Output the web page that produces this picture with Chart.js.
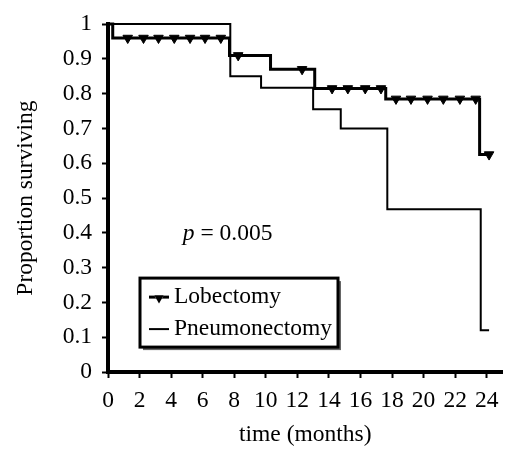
<!DOCTYPE html>
<html>
<head>
<meta charset="utf-8">
<script src="https://cdn.jsdelivr.net/npm/chart.js@4.4.1/dist/chart.umd.min.js"></script>
<style>
html, body { margin: 0; padding: 0; background: #fff; }
</style>
</head>
<body>
<canvas id="myChart" width="509" height="450"></canvas>
<script>
// Kaplan-Meier survival, lobectomy vs pneumonectomy
var monthTicks = [0, 2, 4, 6, 8, 10, 12, 14, 16, 18, 20, 22, 24];

var lobTimes = [0, 0.3, 7.7, 10.3, 13.1, 17.6, 23.55, 24.15];
var lobSurv  = [1, 0.96, 0.91, 0.87, 0.815, 0.785, 0.625, 0.625];

var pneTimes = [0, 7.75, 9.7, 13.0, 14.75, 17.7, 23.62, 24.15];
var pneSurv  = [1, 0.85, 0.817, 0.755, 0.70, 0.468, 0.12, 0.12];

// censored lobectomy patients
var censorTimes = [1.25, 2.25, 3.2, 4.2, 5.2, 6.15, 7.15, 8.25, 12.3, 14.2, 15.2, 16.3, 17.3,
                   18.25, 19.2, 20.25, 21.25, 22.3, 23.3, 24.15];
var censorSurv  = [0.96, 0.96, 0.96, 0.96, 0.96, 0.96, 0.96, 0.91, 0.87, 0.815, 0.815, 0.815, 0.815,
                   0.785, 0.785, 0.785, 0.785, 0.785, 0.785, 0.625];

var pText = '0.005';

var serif = 'Liberation Serif, Times New Roman, serif';
var fsize = 23.5;

function pts(xs, ys) {
  var out = [];
  for (var i = 0; i < xs.length; i++) out.push({x: xs[i], y: ys[i]});
  return out;
}

var legendPlugin = {
  id: 'kmLegend',
  afterDraw: function(chart) {
    var ctx = chart.ctx;
    var ca = chart.chartArea;
    var xs = chart.scales.x, ys = chart.scales.y;
    ctx.save();

    // p value
    ctx.fillStyle = '#000';
    ctx.textBaseline = 'middle';
    ctx.textAlign = 'left';
    var px = xs.getPixelForValue(4.74), py = ys.getPixelForValue(0.398);
    ctx.font = 'italic ' + fsize + 'px ' + serif;
    ctx.fillText('p', px, py);
    var w = ctx.measureText('p').width;
    ctx.font = fsize + 'px ' + serif;
    ctx.fillText(' = ' + pText, px + w, py);

    // legend box
    var bx = ca.left + 32, by = ca.top + 254, bw = 198, bh = 69;
    ctx.fillStyle = '#666';
    ctx.fillRect(bx + 3, by + 3, bw, bh);
    ctx.fillStyle = '#fff';
    ctx.fillRect(bx, by, bw, bh);
    ctx.lineWidth = 3;
    ctx.strokeStyle = '#000';
    ctx.strokeRect(bx, by, bw, bh);

    var rows = [by + 19, by + 51];
    ctx.lineWidth = 3;
    ctx.beginPath();
    ctx.moveTo(bx + 9, rows[0]);
    ctx.lineTo(bx + 29, rows[0]);
    ctx.stroke();
    Chart.helpers.drawPoint(ctx, {pointStyle: 'triangle', radius: 5.5, rotation: 180}, bx + 19, rows[0] + 1);
    ctx.fillStyle = '#000';
    ctx.fill();
    ctx.lineWidth = 2;
    ctx.beginPath();
    ctx.moveTo(bx + 9, rows[1]);
    ctx.lineTo(bx + 29, rows[1]);
    ctx.stroke();

    ctx.fillStyle = '#000';
    ctx.font = fsize + 'px ' + serif;
    ctx.fillText('Lobectomy', bx + 34, rows[0]);
    ctx.fillText('Pneumonectomy', bx + 34, rows[1]);
    ctx.restore();
  }
};

var ctx = document.getElementById('myChart').getContext('2d');
var myChart = new Chart(ctx, {
  type: 'line',
  data: {
    datasets: [{
      label: 'Lobectomy',
      data: pts(lobTimes, lobSurv),
      stepped: true,
      borderColor: '#000',
      borderWidth: 3,
      pointRadius: 0,
      fill: false,
      clip: false
    }, {
      label: 'Pneumonectomy',
      data: pts(pneTimes, pneSurv),
      stepped: true,
      borderColor: '#000',
      borderWidth: 2,
      pointRadius: 0,
      fill: false,
      clip: false
    }, {
      label: 'censored',
      type: 'scatter',
      data: pts(censorTimes, censorSurv),
      pointStyle: 'triangle',
      rotation: 180,
      pointRadius: 5.5,
      backgroundColor: '#000',
      borderColor: '#000',
      borderWidth: 1,
      clip: false
    }]
  },
  options: {
    responsive: false,
    animation: false,
    events: [],
    layout: { padding: { top: 15, right: 0, left: 0, bottom: 0 } },
    plugins: { legend: { display: false }, tooltip: { enabled: false } },
    scales: {
      x: {
        type: 'linear',
        min: 0,
        max: 25,
        afterBuildTicks: function(s) {
          s.ticks = monthTicks.map(function(v) { return {value: v}; });
        },
        afterFit: function(s) { s.height = 78; },
        ticks: {
          color: '#000',
          font: { family: serif, size: fsize },
          padding: 9,
          maxRotation: 0,
          autoSkip: false
        },
        grid: { drawOnChartArea: false, drawTicks: true, tickLength: 6, tickWidth: 2, color: '#000' },
        border: { display: true, color: '#000', width: 4 },
        title: {
          display: true,
          text: 'time (months)',
          color: '#000',
          font: { family: serif, size: fsize },
          padding: { top: 0, bottom: 1 }
        }
      },
      y: {
        min: 0,
        max: 1,
        afterFit: function(s) { s.width = 108; },
        ticks: {
          stepSize: 0.1,
          color: '#000',
          font: { family: serif, size: fsize },
          padding: 10,
          callback: function(v) { return String(Math.round(v * 10) / 10); }
        },
        grid: { drawOnChartArea: false, drawTicks: true, tickLength: 6, tickWidth: 2, color: '#000' },
        border: { display: true, color: '#000', width: 4 },
        title: {
          display: true,
          text: 'Proportion surviving',
          color: '#000',
          font: { family: serif, size: fsize },
          padding: { top: 12, bottom: 0 }
        }
      }
    }
  },
  plugins: [legendPlugin]
});
</script>
</body>
</html>
